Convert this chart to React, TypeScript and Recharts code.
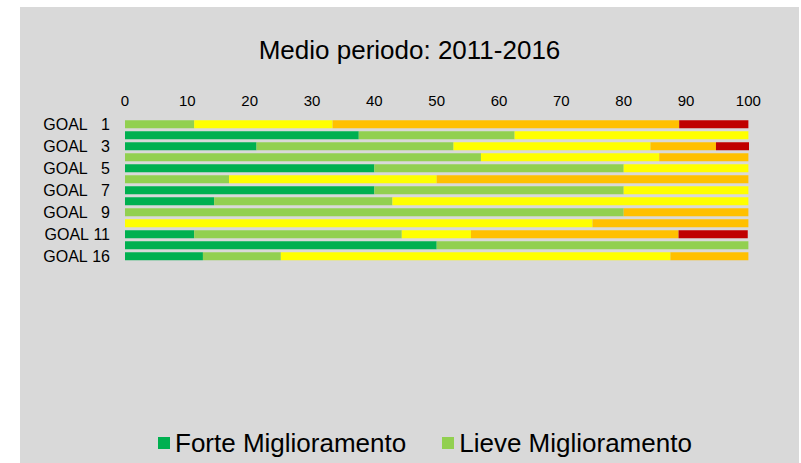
import React from 'react';
import { BarChart, Bar, XAxis, YAxis, Legend } from 'recharts';

const goals = ['GOAL 1', 'GOAL 2', 'GOAL 3', 'GOAL 4', 'GOAL 5', 'GOAL 6', 'GOAL 7', 'GOAL 8', 'GOAL 9', 'GOAL 10', 'GOAL 11', 'GOAL 12', 'GOAL 16'];
const forteMigl = [0, 37.5, 21.1, 0, 40, 0, 40, 14.3, 0, 0, 11.1, 50, 12.5];
const lieveMigl = [11.1, 25, 31.6, 57.1, 40, 16.7, 40, 28.6, 80, 0, 33.3, 50, 12.5];
const stabile = [22.2, 37.5, 31.6, 28.6, 20, 33.3, 20, 57.1, 0, 75, 11.1, 0, 62.5];
const lievePegg = [55.6, 0, 10.5, 14.3, 0, 50, 0, 0, 20, 25, 33.3, 0, 12.5];
const fortePegg = [11.1, 0, 5.3, 0, 0, 0, 0, 0, 0, 0, 11.1, 0, 0];
const xTicks = [0, 10, 20, 30, 40, 50, 60, 70, 80, 90, 100];
// only these two entries are visible in the legend
const legendKeys = ['forteMigl', 'lieveMigl'];

const data = goals.map((goal, i) => ({
  goal,
  forteMigl: forteMigl[i],
  lieveMigl: lieveMigl[i],
  stabile: stabile[i],
  lievePegg: lievePegg[i],
  fortePegg: fortePegg[i],
}));

const font = 'Arial, "Liberation Sans", sans-serif';

const GoalTick = (props: any) => {
  const { x, y, payload } = props;
  const num = String(payload.value).replace('GOAL ', '');
  const label = num.length === 1 ? `GOAL\u00a0\u00a0\u00a0${num}` : `GOAL\u00a0${num}`;
  return (
    <text x={x} y={y} dy="0.35em" textAnchor="end" fill="#000" fontSize={16} fontFamily={font}>
      {label}
    </text>
  );
};

const LegendContent = (props: any) => {
  const items = legendKeys
    .map((k) => (props.payload || []).find((p: any) => p.dataKey === k))
    .filter(Boolean);
  return (
    <div style={{ display: 'flex', alignItems: 'center', height: 30, fontFamily: font, fontSize: 26, color: '#000' }}>
      {items.map((p: any) => (
        <div key={p.value} style={{ display: 'flex', alignItems: 'center', marginRight: 36 }}>
          <span style={{ width: 12, height: 12, background: p.color, marginRight: 5, display: 'inline-block' }} />
          <span style={{ whiteSpace: 'nowrap' }}>{p.value}</span>
        </div>
      ))}
    </div>
  );
};

export default function App() {
  return (
    <div style={{ position: 'absolute', left: 20, top: 7, width: 779, height: 456, background: '#d9d9d9', fontFamily: font }}>
      <div style={{ position: 'absolute', top: 28, left: 0, width: 779, textAlign: 'center', fontSize: 26, lineHeight: '30px', color: '#000' }}>
        Medio periodo: 2011-2016
      </div>
      <BarChart
        width={779}
        height={456}
        data={data}
        layout="vertical"
        margin={{ top: 81.5, right: 50, bottom: 171.5, left: 0 }}
        barCategoryGap="15%"
      >
        <XAxis
          type="number"
          orientation="top"
          domain={[0, 100]}
          ticks={xTicks}
          axisLine={false}
          tickLine={false}
          tickSize={0}
          tickMargin={12.5}
          height={30}
          tick={{ fill: '#000', fontSize: 15, fontFamily: font }}
        />
        <YAxis
          type="category"
          dataKey="goal"
          width={105}
          axisLine={false}
          tickLine={false}
          tickSize={0}
          tickMargin={15}
          interval={1}
          tick={<GoalTick />}
        />
        <Legend
          verticalAlign="bottom"
          content={<LegendContent />}
          wrapperStyle={{ left: 138, top: 421, width: 600 }}
        />
        <Bar dataKey="forteMigl" name="Forte Miglioramento" stackId="a" fill="#00b050" isAnimationActive={false} />
        <Bar dataKey="lieveMigl" name="Lieve Miglioramento" stackId="a" fill="#92d050" isAnimationActive={false} />
        <Bar dataKey="stabile" name="Stabilità" stackId="a" fill="#ffff00" isAnimationActive={false} />
        <Bar dataKey="lievePegg" name="Lieve Peggioramento" stackId="a" fill="#ffc000" isAnimationActive={false} />
        <Bar dataKey="fortePegg" name="Forte Peggioramento" stackId="a" fill="#c00000" isAnimationActive={false} />
      </BarChart>
    </div>
  );
}
